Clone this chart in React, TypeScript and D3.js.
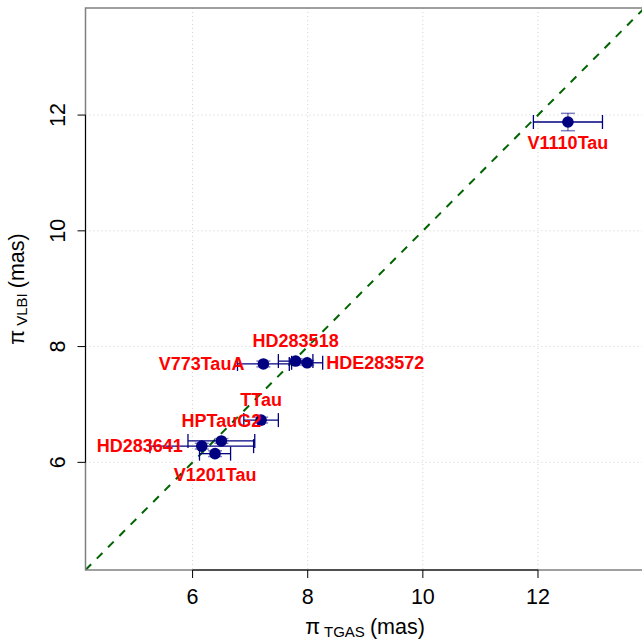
import React from "react";
import * as d3 from "d3";

const names = ["V1110Tau", "V773TauA", "HD283518", "HDE283572", "TTau", "HPTauG2", "HD283641", "V1201Tau"];
const tgas = [12.52, 7.23, 7.79, 7.99, 7.19, 6.5, 6.16, 6.39];
const tgasErr = [0.6, 0.45, 0.3, 0.27, 0.3, 0.58, 0.9, 0.27];
const vlbi = [11.88, 7.7, 7.75, 7.72, 6.73, 6.37, 6.28, 6.15];
const vlbiErr = [0.15, 0.05, 0.04, 0.04, 0.05, 0.04, 0.05, 0.05];
// R text() pos codes: 1 below, 2 left, 3 above, 4 right
const labelPos = [1, 2, 3, 4, 3, 3, 2, 1];
const ticks = [6, 8, 10, 12];
const domain = [4.14, 13.85];

const W = 642;
const H = 643;
const L = 85.5, R = 644.5, T = 8, B = 570;
const FONT = "'Liberation Sans', Arial, Helvetica, sans-serif";

export default function App() {
  const x = d3.scaleLinear().domain(domain).range([L, R]);
  const y = d3.scaleLinear().domain(domain).range([B, T]);
  const line = d3.line<number>().x((v) => x(v)).y((v) => y(v));
  const navy = "#000080";
  const cap = 7;
  const offV = 20;
  const offH = 19;

  return (
    <svg width={W} height={H} style={{ position: "absolute", left: 0, top: 0, background: "#fff" }} fontFamily={FONT}>
      <defs>
        <clipPath id="plotclip">
          <rect x={L} y={T} width={R - L} height={B - T} />
        </clipPath>
      </defs>
      <rect x={0} y={0} width={W} height={H} fill="#fff" />
      {/* grid */}
      <g stroke="#d3d3d3" strokeWidth={1} strokeDasharray="1,3">
        {ticks.map((t) => (
          <line key={"gx" + t} x1={x(t)} x2={x(t)} y1={T} y2={B} />
        ))}
        {ticks.map((t) => (
          <line key={"gy" + t} x1={L} x2={R} y1={y(t)} y2={y(t)} />
        ))}
      </g>
      {/* y = x */}
      <path
        d={line(domain) || ""}
        stroke="#006400"
        strokeWidth={2}
        strokeDasharray="8,8"
        fill="none"
        clipPath="url(#plotclip)"
      />
      {/* box */}
      <rect x={L} y={T} width={R - L} height={B - T} fill="none" stroke="#808080" strokeWidth={1.5} />
      {/* axes */}
      <g stroke="#000" strokeWidth={1}>
        <line x1={x(ticks[0])} x2={x(ticks[ticks.length - 1])} y1={B} y2={B} />
        {ticks.map((t) => (
          <line key={"tx" + t} x1={x(t)} x2={x(t)} y1={B} y2={B + 8} />
        ))}
        <line x1={L} x2={L} y1={y(ticks[0])} y2={y(ticks[ticks.length - 1])} />
        {ticks.map((t) => (
          <line key={"ty" + t} x1={L} x2={L - 8} y1={y(t)} y2={y(t)} />
        ))}
      </g>
      <g fontSize={21.5} fill="#000">
        {ticks.map((t) => (
          <text key={"lx" + t} x={x(t)} y={604} textAnchor="middle">
            {t}
          </text>
        ))}
        {ticks.map((t) => (
          <text key={"ly" + t} transform={`translate(65,${y(t)}) rotate(-90)`} textAnchor="middle">
            {t}
          </text>
        ))}
      </g>
      {/* axis titles */}
      <text x={(L + R) / 2} y={634} textAnchor="middle" fontSize={21.5}>
        π<tspan fontSize={15} dx={4} dy={3}>TGAS</tspan>
        <tspan dy={-3} dx={5}>(mas)</tspan>
      </text>
      <text transform={`translate(24,${(T + B) / 2}) rotate(-90)`} textAnchor="middle" fontSize={21.5}>
        π<tspan fontSize={15} dx={4} dy={3}>VLBI</tspan>
        <tspan dy={-3} dx={5}>(mas)</tspan>
      </text>
      {/* error bars */}
      <g>
        {names.map((n, i) => {
          const cx = x(tgas[i]);
          const cy = y(vlbi[i]);
          const x0 = x(tgas[i] - tgasErr[i]);
          const x1 = x(tgas[i] + tgasErr[i]);
          const y0 = y(vlbi[i] - vlbiErr[i]);
          const y1 = y(vlbi[i] + vlbiErr[i]);
          return (
            <g key={"e" + n}>
              <g stroke="rgba(0,0,128,0.5)" strokeWidth={1.5}>
                <line x1={cx} x2={cx} y1={y0} y2={y1} />
                <line x1={cx - cap} x2={cx + cap} y1={y0} y2={y0} />
                <line x1={cx - cap} x2={cx + cap} y1={y1} y2={y1} />
              </g>
              <g stroke={navy} strokeWidth={1.3}>
                <line x1={x0} x2={x1} y1={cy} y2={cy} />
                <line x1={x0} x2={x0} y1={cy - cap} y2={cy + cap} />
                <line x1={x1} x2={x1} y1={cy - cap} y2={cy + cap} />
              </g>
            </g>
          );
        })}
      </g>
      {/* points */}
      {names.map((n, i) => (
        <circle key={"p" + n} cx={x(tgas[i])} cy={y(vlbi[i])} r={5.8} fill={navy} />
      ))}
      {/* labels */}
      <g fill="#ff0000" fontWeight="bold" fontSize={18}>
        {names.map((n, i) => {
          const cx = x(tgas[i]);
          const cy = y(vlbi[i]);
          const p = labelPos[i];
          let tx = cx, ty = cy, anchor = "middle";
          if (p === 1) ty = cy + offV + 1;
          if (p === 3) ty = cy - offV;
          if (p === 2) { tx = cx - offH; anchor = "end"; }
          if (p === 4) { tx = cx + offH; anchor = "start"; }
          return (
            <text key={"t" + n} x={tx} y={ty} textAnchor={anchor} dominantBaseline="central">
              {n}
            </text>
          );
        })}
      </g>
    </svg>
  );
}
